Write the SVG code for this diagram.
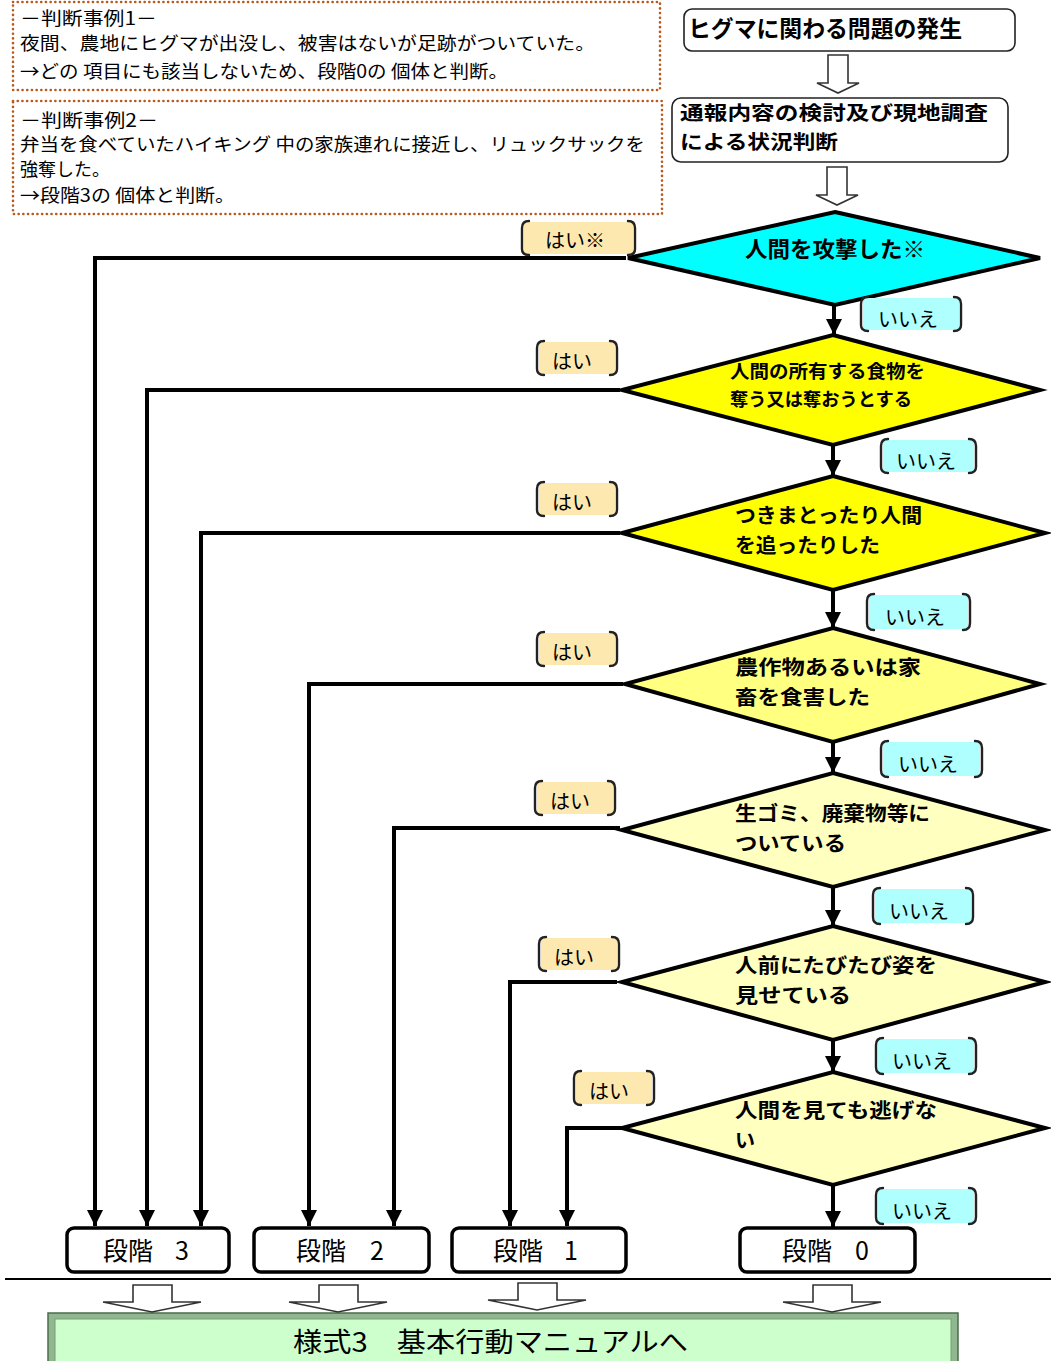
<svg xmlns="http://www.w3.org/2000/svg" width="1051" height="1361" viewBox="0 0 1051 1361">
<defs>
<style>
.t{font-family:"Noto Sans CJK JP","Noto Sans",sans-serif;fill:#000}
.note{font-size:18px}
.b{font-weight:bold}
.dot{fill:#fff;stroke:#b85a1e;stroke-width:2.6;stroke-dasharray:0.1 4.6;stroke-linecap:round}
.rbox{fill:#fff;stroke:#222;stroke-width:1.6}
.dia{stroke:#000;stroke-width:4;stroke-linejoin:miter}
.stage{fill:#fff;stroke:#000;stroke-width:3.5}
.hol{fill:#fff;stroke:#333;stroke-width:1.6;stroke-linejoin:miter}
.ln{fill:none;stroke:#000;stroke-width:4}
.br{fill:none;stroke:#222;stroke-width:2.4;stroke-linecap:round}
.yes{fill:#fde9b0}
.no{fill:#b0ffff}
.lbl{font-size:20px}
.dt{font-size:20px;font-weight:bold}
</style>
<marker id="ah" markerUnits="userSpaceOnUse" markerWidth="18" markerHeight="16" refX="16" refY="8" orient="auto">
<path d="M0,0 L16,8 L0,16 Z" fill="#000"/>
</marker>
</defs>

<g id="case1">
<rect class="dot" x="13" y="2" width="647" height="88"/>
<text class="t note" x="20" y="25" textLength="137" lengthAdjust="spacingAndGlyphs">－判断事例1－</text>
<text class="t note" x="20" y="50" textLength="575" lengthAdjust="spacingAndGlyphs">夜間、農地にヒグマが出没し、被害はないが足跡がついていた。</text>
<text class="t note" x="20" y="78" textLength="488" lengthAdjust="spacingAndGlyphs">→どの 項目にも該当しないため、段階0の 個体と判断。</text>
</g>
<g id="case2">
<rect class="dot" x="13" y="101" width="649" height="113"/>
<text class="t note" x="20" y="127" textLength="138" lengthAdjust="spacingAndGlyphs">－判断事例2－</text>
<text class="t note" x="20" y="151" textLength="625" lengthAdjust="spacingAndGlyphs">弁当を食べていたハイキング 中の家族連れに接近し、リュックサックを</text>
<text class="t note" x="20" y="176" textLength="90" lengthAdjust="spacingAndGlyphs">強奪した。</text>
<text class="t note" x="20" y="202" textLength="215" lengthAdjust="spacingAndGlyphs">→段階3の 個体と判断。</text>
</g>

<g id="start">
<rect class="rbox" x="684" y="9" width="331" height="42" rx="8"/>
<text class="t b" x="688" y="37" font-size="23" textLength="274" lengthAdjust="spacingAndGlyphs">ヒグマに関わる問題の発生</text>
</g>
<g id="survey">
<rect class="rbox" x="672" y="98" width="336" height="64" rx="9"/>
<text class="t b" x="680" y="120" font-size="19.5" textLength="308" lengthAdjust="spacingAndGlyphs">通報内容の検討及び現地調査</text>
<text class="t b" x="680" y="149" font-size="19.5" textLength="158" lengthAdjust="spacingAndGlyphs">による状況判断</text>
</g>

<g id="d1">
<polygon class="dia" fill="#00ffff" points="835,212 1040,258 835,305 628,258"/>
<text class="t b" x="745" y="257" font-size="22" textLength="180" lengthAdjust="spacingAndGlyphs">人間を攻撃した※</text>
</g>
<g id="d2">
<polygon class="dia" fill="#ffff00" points="833,335 1040,390 833,445 622,390"/>
<text class="t b" x="730" y="378" font-size="18.5" textLength="195" lengthAdjust="spacingAndGlyphs">人間の所有する食物を</text>
<text class="t b" x="730" y="406" font-size="18.5" textLength="182" lengthAdjust="spacingAndGlyphs">奪う又は奪おうとする</text>
</g>
<g id="d3">
<polygon class="dia" fill="#ffff00" points="833,476 1045,533 833,590 622,533"/>
<text class="t dt" x="735" y="523" textLength="187" lengthAdjust="spacingAndGlyphs">つきまとったり人間</text>
<text class="t dt" x="735" y="553" textLength="145" lengthAdjust="spacingAndGlyphs">を追ったりした</text>
</g>
<g id="d4">
<polygon class="dia" fill="#ffff80" points="833,628 1040,684 833,742 625,684"/>
<text class="t dt" x="735" y="675" textLength="186" lengthAdjust="spacingAndGlyphs">農作物あるいは家</text>
<text class="t dt" x="735" y="705" textLength="135" lengthAdjust="spacingAndGlyphs">畜を食害した</text>
</g>
<g id="d5">
<polygon class="dia" fill="#ffffc0" points="833,773 1045,830 833,887 622,830"/>
<text class="t dt" x="735" y="821" textLength="195" lengthAdjust="spacingAndGlyphs">生ゴミ、廃棄物等に</text>
<text class="t dt" x="735" y="851" textLength="111" lengthAdjust="spacingAndGlyphs">ついている</text>
</g>
<g id="d6">
<polygon class="dia" fill="#ffffc0" points="833,926 1045,982 833,1040 622,982"/>
<text class="t dt" x="735" y="973" textLength="202" lengthAdjust="spacingAndGlyphs">人前にたびたび姿を</text>
<text class="t dt" x="735" y="1003" textLength="116" lengthAdjust="spacingAndGlyphs">見せている</text>
</g>
<g id="d7">
<polygon class="dia" fill="#ffffc0" points="833,1072 1045,1128 833,1185 622,1128"/>
<text class="t dt" x="735" y="1118" textLength="202" lengthAdjust="spacingAndGlyphs">人間を見ても逃げな</text>
<text class="t dt" x="735" y="1148">い</text>
</g>

<g id="s3">
<rect class="stage" x="67" y="1228" width="162" height="44" rx="7"/>
<text class="t" y="1260" font-size="25"><tspan x="103">段階</tspan><tspan x="175">3</tspan></text>
</g>
<g id="s2">
<rect class="stage" x="254" y="1228" width="175" height="44" rx="7"/>
<text class="t" y="1260" font-size="25"><tspan x="296">段階</tspan><tspan x="370">2</tspan></text>
</g>
<g id="s1">
<rect class="stage" x="452" y="1228" width="174" height="44" rx="7"/>
<text class="t" y="1260" font-size="25"><tspan x="493">段階</tspan><tspan x="564">1</tspan></text>
</g>
<g id="s0">
<rect class="stage" x="740" y="1228" width="175" height="44" rx="7"/>
<text class="t" y="1260" font-size="25"><tspan x="782">段階</tspan><tspan x="855">0</tspan></text>
</g>

<g id="manual">
<rect x="48" y="1313" width="910" height="52" fill="#8fb88f" stroke="#4d6b4d" stroke-width="1.5"/>
<rect x="55" y="1319" width="896" height="46" fill="#ccffcc" stroke="#7a9a7a" stroke-width="1"/>
<text class="t" x="293" y="1352" font-size="27" textLength="395" lengthAdjust="spacingAndGlyphs">様式3　基本行動マニュアルへ</text>
</g>

<g id="labels">
<g id="y1"><rect class="yes" x="524" y="222" width="109" height="32" rx="3"/><path class="br" d="M529,221 Q522,221 522,228 L522,249 Q522,255 529,255 M628,221 Q635,221 635,228 L635,249 Q635,255 628,255"/><text class="t lbl" x="545" y="248">はい※</text></g>
<g id="n1"><rect class="no" x="863" y="298" width="96" height="32" rx="3"/><path class="br" d="M868,297 Q861,297 861,304 L861,325 Q861,331 868,331 M954,297 Q961,297 961,304 L961,325 Q961,331 954,331"/><text class="t lbl" x="878" y="327">いいえ</text></g>
<g id="y2"><rect class="yes" x="539" y="342" width="76" height="32" rx="3"/><path class="br" d="M544,341 Q537,341 537,348 L537,369 Q537,375 544,375 M610,341 Q617,341 617,348 L617,369 Q617,375 610,375"/><text class="t lbl" x="552" y="369">はい</text></g>
<g id="n2"><rect class="no" x="883" y="440" width="91" height="32" rx="3"/><path class="br" d="M888,439 Q881,439 881,446 L881,467 Q881,473 888,473 M969,439 Q976,439 976,446 L976,467 Q976,473 969,473"/><text class="t lbl" x="896" y="469">いいえ</text></g>
<g id="y3"><rect class="yes" x="539" y="483" width="76" height="32" rx="3"/><path class="br" d="M544,482 Q537,482 537,489 L537,510 Q537,516 544,516 M610,482 Q617,482 617,489 L617,510 Q617,516 610,516"/><text class="t lbl" x="552" y="510">はい</text></g>
<g id="n3"><rect class="no" x="869" y="595" width="99" height="34" rx="3"/><path class="br" d="M874,594 Q867,594 867,601 L867,623 Q867,630 874,630 M963,594 Q970,594 970,601 L970,623 Q970,630 963,630"/><text class="t lbl" x="885" y="625">いいえ</text></g>
<g id="y4"><rect class="yes" x="539" y="633" width="76" height="32" rx="3"/><path class="br" d="M544,632 Q537,632 537,639 L537,660 Q537,666 544,666 M610,632 Q617,632 617,639 L617,660 Q617,666 610,666"/><text class="t lbl" x="552" y="660">はい</text></g>
<g id="n4"><rect class="no" x="883" y="742" width="97" height="34" rx="3"/><path class="br" d="M888,741 Q881,741 881,748 L881,770 Q881,777 888,777 M975,741 Q982,741 982,748 L982,770 Q982,777 975,777"/><text class="t lbl" x="898" y="772">いいえ</text></g>
<g id="y5"><rect class="yes" x="537" y="782" width="76" height="32" rx="3"/><path class="br" d="M542,781 Q535,781 535,788 L535,809 Q535,815 542,815 M608,781 Q615,781 615,788 L615,809 Q615,815 608,815"/><text class="t lbl" x="550" y="809">はい</text></g>
<g id="n5"><rect class="no" x="875" y="889" width="96" height="34" rx="3"/><path class="br" d="M880,888 Q873,888 873,895 L873,917 Q873,924 880,924 M966,888 Q973,888 973,895 L973,917 Q973,924 966,924"/><text class="t lbl" x="889" y="919">いいえ</text></g>
<g id="y6"><rect class="yes" x="541" y="938" width="76" height="32" rx="3"/><path class="br" d="M546,937 Q539,937 539,944 L539,965 Q539,971 546,971 M612,937 Q619,937 619,944 L619,965 Q619,971 612,971"/><text class="t lbl" x="554" y="965">はい</text></g>
<g id="n6"><rect class="no" x="878" y="1039" width="96" height="34" rx="3"/><path class="br" d="M883,1038 Q876,1038 876,1045 L876,1067 Q876,1074 883,1074 M969,1038 Q976,1038 976,1045 L976,1067 Q976,1074 969,1074"/><text class="t lbl" x="892" y="1069">いいえ</text></g>
<g id="y7"><rect class="yes" x="576" y="1072" width="76" height="32" rx="3"/><path class="br" d="M581,1071 Q574,1071 574,1078 L574,1099 Q574,1105 581,1105 M647,1071 Q654,1071 654,1078 L654,1099 Q654,1105 647,1105"/><text class="t lbl" x="589" y="1099">はい</text></g>
<g id="n7"><rect class="no" x="878" y="1189" width="96" height="34" rx="3"/><path class="br" d="M883,1188 Q876,1188 876,1195 L876,1217 Q876,1224 883,1224 M969,1188 Q976,1188 976,1195 L976,1217 Q976,1224 969,1224"/><text class="t lbl" x="892" y="1219">いいえ</text></g>
</g>

<g id="connectors">
<path class="hol" d="M828,55 L848,55 L848,83 L859,83 L838,93 L817,83 L828,83 Z"/>
<path class="hol" d="M827,167 L847,167 L847,195 L858,195 L837,205 L816,195 L827,195 Z"/>
<path class="ln" d="M626,258 L95,258 L95,1226" marker-end="url(#ah)"/>
<path class="ln" d="M620,390 L147,390 L147,1226" marker-end="url(#ah)"/>
<path class="ln" d="M620,533 L201,533 L201,1226" marker-end="url(#ah)"/>
<path class="ln" d="M623,684 L309,684 L309,1226" marker-end="url(#ah)"/>
<path class="ln" d="M620,828 L394,828 L394,1226" marker-end="url(#ah)"/>
<path class="ln" d="M617,982 L510,982 L510,1226" marker-end="url(#ah)"/>
<path class="ln" d="M623,1128 L567,1128 L567,1226" marker-end="url(#ah)"/>
<path class="ln" d="M834,305 L834,335" marker-end="url(#ah)"/>
<path class="ln" d="M833,445 L833,476" marker-end="url(#ah)"/>
<path class="ln" d="M833,590 L833,628" marker-end="url(#ah)"/>
<path class="ln" d="M833,742 L833,773" marker-end="url(#ah)"/>
<path class="ln" d="M833,887 L833,926" marker-end="url(#ah)"/>
<path class="ln" d="M833,1040 L833,1072" marker-end="url(#ah)"/>
<path class="ln" d="M833,1185 L833,1227" marker-end="url(#ah)"/>
<line x1="5" y1="1279" x2="1051" y2="1279" stroke="#000" stroke-width="2"/>
<path class="hol" d="M133,1285 L172,1285 L172,1302 L201,1302 L152,1312 L103,1302 L133,1302 Z"/>
<path class="hol" d="M319,1285 L358,1285 L358,1302 L387,1302 L338,1312 L289,1302 L319,1302 Z"/>
<path class="hol" d="M518,1283 L557,1283 L557,1300 L586,1300 L537,1310 L488,1300 L518,1300 Z"/>
<path class="hol" d="M813,1285 L852,1285 L852,1302 L881,1302 L832,1312 L783,1302 L813,1302 Z"/>
</g>
</svg>
